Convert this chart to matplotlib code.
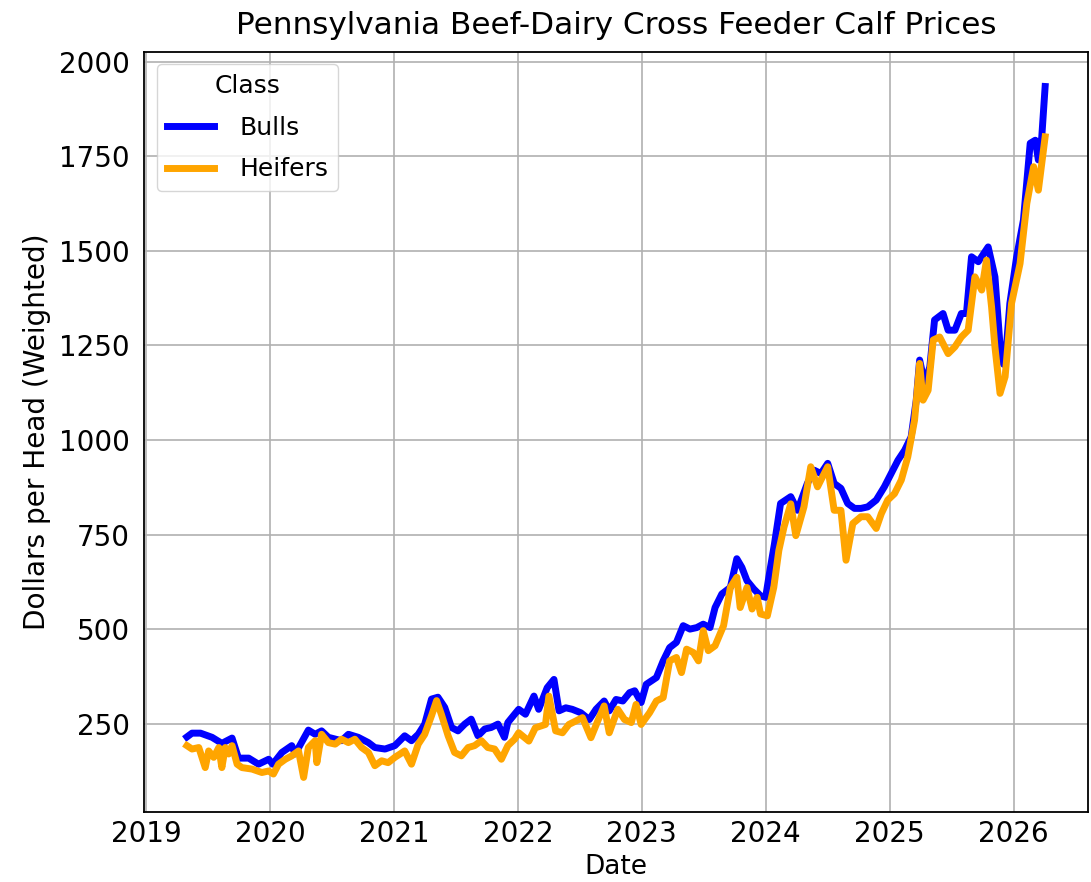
import matplotlib
matplotlib.use("Agg")
import matplotlib.pyplot as plt
import matplotlib.dates as mdates
import pandas as pd

# ---- Data ----
bulls_dates = [
    "2019-05-01", "2019-05-16", "2019-06-10", "2019-07-14", "2019-08-12", "2019-09-11",
    "2019-09-30", "2019-10-30", "2019-11-28", "2019-12-28", "2020-01-09", "2020-02-05",
    "2020-03-05", "2020-03-15", "2020-04-23", "2020-05-13", "2020-06-01", "2020-06-21",
    "2020-07-30", "2020-08-19", "2020-09-17", "2020-10-17", "2020-11-05", "2020-12-05",
    "2021-01-03", "2021-02-01", "2021-02-21", "2021-03-13", "2021-04-01", "2021-04-21",
    "2021-05-10", "2021-05-30", "2021-06-19", "2021-07-08", "2021-07-28", "2021-08-16",
    "2021-09-05", "2021-09-25", "2021-10-14", "2021-11-03", "2021-11-22", "2021-12-02",
    "2021-12-22",
    "2022-01-03", "2022-01-23", "2022-02-17", "2022-03-03", "2022-03-28", "2022-04-17",
    "2022-05-02", "2022-05-22", "2022-06-10", "2022-07-05", "2022-07-30", "2022-08-19",
    "2022-09-12", "2022-09-27", "2022-10-17", "2022-11-06", "2022-11-26", "2022-12-11",
    "2022-12-30", "2023-01-14", "2023-02-13", "2023-03-05", "2023-03-24", "2023-04-13",
    "2023-05-03", "2023-05-23", "2023-06-12", "2023-07-01", "2023-07-21", "2023-08-05",
    "2023-08-25", "2023-09-19", "2023-10-08", "2023-10-23", "2023-11-07", "2023-11-27",
    "2023-12-17", "2024-01-01", "2024-01-12", "2024-01-27", "2024-02-14", "2024-03-15",
    "2024-04-04", "2024-05-03", "2024-05-23", "2024-06-12", "2024-07-02", "2024-07-21",
    "2024-08-10", "2024-08-30", "2024-09-19", "2024-10-08", "2024-10-28", "2024-11-22",
    "2024-12-16", "2025-01-05", "2025-01-25", "2025-02-14", "2025-03-05", "2025-03-20",
    "2025-03-30", "2025-04-14", "2025-04-29", "2025-05-13", "2025-06-07", "2025-06-22",
    "2025-07-12", "2025-07-31", "2025-08-15", "2025-08-30", "2025-09-19", "2025-10-18",
    "2025-11-07", "2025-11-22", "2025-12-02", "2025-12-12", "2025-12-21", "2026-01-10",
    "2026-01-30", "2026-02-19", "2026-03-06", "2026-03-15", "2026-03-25", "2026-04-04",
]
bulls_values = [
    215, 225, 225, 214, 198, 212,
    159, 159, 143, 156, 143, 174,
    192, 170, 233, 222, 231, 214,
    205, 222, 214, 200, 187, 183,
    192, 218, 205, 222, 249, 315,
    320, 293, 240, 231, 249, 262,
    218, 236, 240, 249, 214, 253,
    275,
    288, 275, 323, 288, 345, 367,
    284, 292, 288, 279, 261, 288,
    310, 284, 314, 310, 332, 337,
    306, 354, 372, 416, 451, 465,
    509, 500, 504, 513, 504, 557,
    593, 610, 686, 663, 628, 606,
    588, 584, 646, 725, 832, 850,
    814, 885, 920, 911, 938, 885,
    872, 832, 819, 819, 823, 841,
    876, 911, 946, 973, 1008, 1105,
    1211, 1149, 1193, 1317, 1334, 1290,
    1290, 1334, 1334, 1484, 1471, 1510,
    1431, 1250, 1200, 1260, 1361, 1484,
    1581, 1784, 1792, 1740, 1800, 1934,
]

heifers_dates = [
    "2019-05-01", "2019-05-16", "2019-06-05", "2019-06-24", "2019-07-04", "2019-07-19",
    "2019-08-03", "2019-08-12", "2019-08-22", "2019-09-01", "2019-09-11", "2019-09-26",
    "2019-10-10", "2019-11-09", "2019-12-08", "2019-12-28", "2020-01-11", "2020-01-26",
    "2020-02-15", "2020-03-05", "2020-03-25", "2020-04-09", "2020-04-23", "2020-05-13",
    "2020-05-18", "2020-06-01", "2020-06-21", "2020-07-11", "2020-07-30", "2020-08-19",
    "2020-09-07", "2020-09-27", "2020-10-17", "2020-11-05", "2020-11-25", "2020-12-14",
    "2021-01-03", "2021-02-01", "2021-02-21", "2021-03-13", "2021-04-01", "2021-04-21",
    "2021-05-06", "2021-05-20", "2021-06-09", "2021-06-28", "2021-07-18", "2021-08-07",
    "2021-08-26", "2021-09-15", "2021-10-04", "2021-10-24", "2021-11-13", "2021-12-02",
    "2021-12-22",
    "2022-01-03", "2022-02-02", "2022-02-21", "2022-03-23", "2022-04-02", "2022-04-22",
    "2022-05-12", "2022-05-31", "2022-06-20", "2022-07-10", "2022-08-04", "2022-08-24",
    "2022-09-12", "2022-09-27", "2022-10-22", "2022-11-11", "2022-12-01", "2022-12-15",
    "2022-12-30", "2023-01-24", "2023-02-13", "2023-03-05", "2023-03-24", "2023-04-13",
    "2023-04-28", "2023-05-13", "2023-06-02", "2023-06-17", "2023-07-01", "2023-07-16",
    "2023-08-05", "2023-08-30", "2023-09-19", "2023-10-08", "2023-10-18", "2023-11-07",
    "2023-11-22", "2023-12-07", "2023-12-17", "2024-01-06", "2024-01-25", "2024-02-09",
    "2024-02-24", "2024-03-15", "2024-03-30", "2024-04-23", "2024-05-13", "2024-06-02",
    "2024-06-12", "2024-07-02", "2024-07-21", "2024-08-10", "2024-08-25", "2024-09-14",
    "2024-10-08", "2024-10-28", "2024-11-22", "2024-12-07", "2024-12-26", "2025-01-15",
    "2025-02-04", "2025-02-23", "2025-03-15", "2025-03-30", "2025-04-09", "2025-04-24",
    "2025-05-09", "2025-05-28", "2025-06-22", "2025-07-12", "2025-07-31", "2025-08-20",
    "2025-09-09", "2025-09-29", "2025-10-13", "2025-10-28", "2025-11-07", "2025-11-22",
    "2025-12-07", "2025-12-26", "2026-01-20", "2026-02-09", "2026-03-01", "2026-03-15",
    "2026-04-04",
]
heifers_values = [
    192, 183, 187, 134, 178, 161,
    187, 134, 187, 170, 192, 143,
    134, 130, 121, 125, 117, 143,
    156, 165, 178, 108, 187, 205,
    147, 222, 200, 196, 209, 200,
    209, 187, 174, 139, 152, 147,
    161, 178, 143, 196, 222, 271,
    311, 275, 218, 174, 165, 187,
    192, 205, 187, 183, 156, 192,
    209,
    226, 204, 239, 248, 323, 231,
    226, 248, 257, 266, 213, 257,
    297, 226, 288, 261, 253, 301,
    248, 279, 310, 319, 416, 425,
    385, 447, 438, 416, 496, 443,
    456, 509, 610, 637, 557, 610,
    553, 584, 540, 535, 610, 708,
    769, 831, 747, 823, 929, 876,
    894, 929, 814, 814, 682, 779,
    797, 797, 766, 805, 841, 858,
    894, 955, 1052, 1202, 1105, 1131,
    1264, 1272, 1228, 1246, 1272, 1290,
    1431, 1396, 1475, 1352, 1246, 1123,
    1167, 1361, 1466, 1625, 1722, 1660,
    1801,
]

series_names = ["Bulls", "Heifers"]
series_colors = ["blue", "orange"]

# ---- Plot ----
fig = plt.figure(figsize=(10.91, 8.82), dpi=100)
ax = fig.add_axes([0.132, 0.0794, 0.8653, 0.8617])

ax.plot(pd.to_datetime(bulls_dates), bulls_values, color=series_colors[0],
        linewidth=5, label=series_names[0])
ax.plot(pd.to_datetime(heifers_dates), heifers_values, color=series_colors[1],
        linewidth=5, label=series_names[1])

ax.xaxis.set_major_locator(mdates.YearLocator())
ax.xaxis.set_major_formatter(mdates.DateFormatter("%Y"))
ax.set_yticks([250, 500, 750, 1000, 1250, 1500, 1750, 2000])

ax.grid(True, color="#b0b0b0", linewidth=1.2)
ax.set_axisbelow(True)
for s in ax.spines.values():
    s.set_linewidth(1.3)
    s.set_color("black")

ax.tick_params(axis="both", length=0, labelsize=20)
ax.tick_params(axis="x", pad=6)
ax.tick_params(axis="y", pad=10)

ax.set_title("Pennsylvania Beef-Dairy Cross Feeder Calf Prices", fontsize=22.4,
             y=1.0, pad=13)
ax.set_xlabel("Date", fontsize=19, labelpad=4)
ax.set_ylabel("Dollars per Head (Weighted)", fontsize=20.2, labelpad=6)

leg = ax.legend(title="Class", loc="upper left", fontsize=18, title_fontsize=18,
                handlelength=1.9, handletextpad=1.0, labelspacing=0.7)

fig.savefig("out.png", dpi=100)
